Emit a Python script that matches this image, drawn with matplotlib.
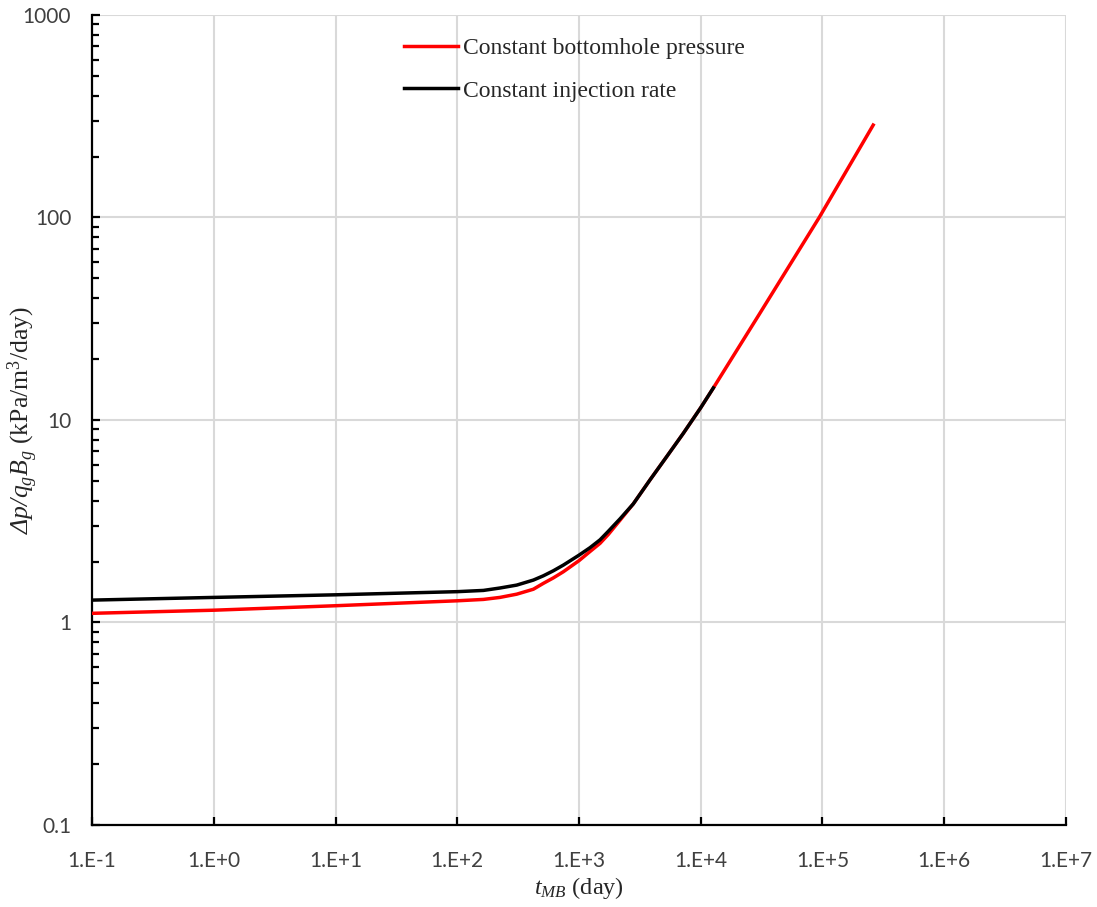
import numpy as np
import matplotlib
matplotlib.use('Agg')
import matplotlib.pyplot as plt
from matplotlib.ticker import LogLocator, FuncFormatter, NullFormatter

# material balance time (day) and normalized pressure drop
t_bhp = [0.1, 1, 10, 100, 164, 224, 308, 422, 509, 615, 743, 1000, 1230, 1489, 1740,
         2173, 2790, 3830, 5250, 7190, 1e4, 1.27e4, 3e4, 9.4e4, 2.61e5]
dp_bhp = [1.11, 1.15, 1.21, 1.28, 1.30, 1.33, 1.38, 1.46, 1.56, 1.66, 1.78, 2.02, 2.24, 2.46, 2.72,
          3.20, 3.85, 5.06, 6.59, 8.59, 11.5, 14.4, 33.0, 100.0, 286.0]

t_rate = [0.1, 1, 10, 100, 164, 224, 308, 422, 509, 615, 743, 1000, 1230, 1489, 1740,
          2173, 2790, 3830, 5250, 7190, 1e4, 1.27e4]
dp_rate = [1.29, 1.33, 1.37, 1.42, 1.44, 1.48, 1.53, 1.62, 1.70, 1.80, 1.92, 2.15, 2.34, 2.56, 2.82,
           3.25, 3.85, 5.06, 6.59, 8.59, 11.5, 14.4]

x_ticks = [1e-1, 1e0, 1e1, 1e2, 1e3, 1e4, 1e5, 1e6, 1e7]
y_ticks = [0.1, 1, 10, 100, 1000]

# italic serif for math symbols (Greek capitals go through 'rm'), upright serif via \mathsf
plt.rcParams['mathtext.fontset'] = 'custom'
plt.rcParams['mathtext.rm'] = 'Liberation Serif:italic'
plt.rcParams['mathtext.it'] = 'Liberation Serif:italic'
plt.rcParams['mathtext.sf'] = 'Liberation Serif'

fig = plt.figure(figsize=(10.97, 9.07), dpi=100)
ax = fig.add_axes([0.0839, 0.0904, 0.8878, 0.8931])

ax.plot(t_bhp, dp_bhp, color='#ff0000', lw=2.5, label='Constant bottomhole pressure', zorder=3)
ax.plot(t_rate, dp_rate, color='black', lw=2.5, label='Constant injection rate', zorder=4)

ax.set_xscale('log')
ax.set_yscale('log')
ax.set_xlim(1e-1, 1e7)
ax.set_ylim(0.1, 1000)

ax.set_xticks(x_ticks)
ax.xaxis.set_minor_locator(LogLocator(base=10, subs=[], numticks=20))
ax.xaxis.set_major_formatter(FuncFormatter(lambda v, p: '1.E%+d' % int(round(np.log10(v)))))
ax.set_yticks(y_ticks)
ax.yaxis.set_minor_locator(LogLocator(base=10, subs=np.arange(2, 10), numticks=20))
ax.yaxis.set_minor_formatter(NullFormatter())
ax.yaxis.set_major_formatter(FuncFormatter(lambda v, p: ('%g' % v)))

ax.grid(True, which='major', color='#d9d9d9', lw=1.5, zorder=0)
ax.set_axisbelow(True)

for side in ['top', 'right']:
    ax.spines[side].set_visible(False)
for side in ['left', 'bottom']:
    ax.spines[side].set_linewidth(1.6)
    ax.spines[side].set_color('black')

ax.tick_params(axis='x', which='major', direction='in', length=6, width=1.6, pad=18.5,
               labelsize=15, labelcolor='#404040')
ax.tick_params(axis='y', which='major', direction='in', length=6, width=1.6, pad=15,
               labelsize=15, labelcolor='#404040')
ax.tick_params(axis='y', which='minor', direction='in', length=5, width=1.6)
for lab in ax.get_xticklabels() + ax.get_yticklabels():
    lab.set_fontfamily('Lato')

ax.set_xlabel(r'$t_{MB}$ (day)', fontsize=17.5, fontfamily='Liberation Serif', color='#262626')
ax.xaxis.set_label_coords(0.5, -0.062)
ax.set_ylabel(r'$\Delta p/q_g B_g$ (kPa/m$^{\mathsf{3}}$/day)', fontsize=18.5,
              fontfamily='Liberation Serif', color='#262626')
ax.yaxis.set_label_coords(-0.053, 0.5)

leg = ax.legend(loc='upper left', bbox_to_anchor=(0.298, 0.998), frameon=False,
                prop={'family': 'Liberation Serif', 'size': 17}, handlelength=2.3,
                handletextpad=0.2, labelspacing=0.88)
for txt in leg.get_texts():
    txt.set_color('#262626')

fig.savefig('out.png', dpi=100)
